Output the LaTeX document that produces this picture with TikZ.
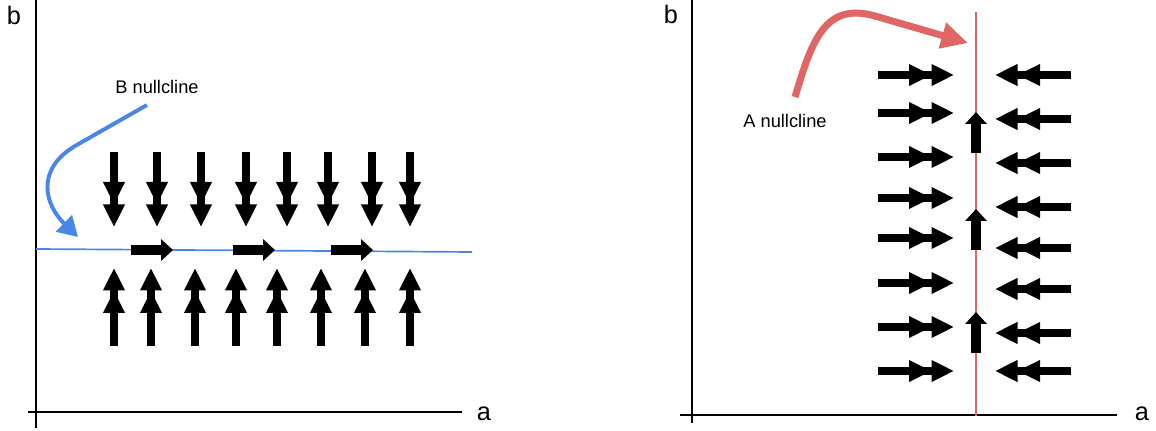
\documentclass[tikz,border=0pt]{standalone}
\usepackage{fontspec}
\setmainfont{Liberation Sans}
\usetikzlibrary{arrows.meta}
\definecolor{nullblue}{HTML}{4A86E8}
\definecolor{nullred}{HTML}{E06666}
\tikzset{
  axis/.style={line width=1.4pt},
  flow/.style={line width=5.6pt, -{Triangle[length=16pt,width=14.5pt]Triangle[length=16pt,width=14.5pt]}},
  drift/.style={line width=7.8pt, -{Triangle[length=8.5pt,width=15pt]}},
  axislabel/.style={font=\fontsize{18}{20}\selectfont},
  nulllabel/.style={font=\fontsize{13}{15}\selectfont}
}
\begin{document}
\begin{tikzpicture}[x=0.025cm,y=-0.025cm]
	\useasboundingbox (0,0) rectangle (1156,431);
	% left: b nullcline
	\draw[axis] (36,0)--(36,428);
	\draw[axis] (28,412)--(462,412);
	\node[axislabel] (bleft) at (14,15) {b};
	\node[axislabel] (aleft) at (484,414) {a};

	\draw[nullblue, line width=1.2pt] (36,249)--(472,252);

	\foreach \x in {114,157,201,246,287,328,372,410}{
	  \draw[flow] (\x,152)--(\x,227);
	}
	\foreach \x in {114,151,195,236,277,321,365,410}{
	  \draw[flow] (\x,346)--(\x,268);
	}
	\foreach \x in {131,233,331}{
	  \draw[drift] (\x,250)--(\x+42,250);
	}

	\node[nulllabel] (blabel) at (157,87) {B nullcline};
	\draw[nullblue, line width=2.8pt, -{Triangle[length=14pt,width=16pt]}] (147,105)--(75,146) .. controls (35,170) and (45,205) .. (78,237);

	% right: a nullcline
	\draw[axis] (692,0)--(692,423);
	\draw[axis] (680,415)--(1117,415);
	\node[axislabel] (bright) at (671,14) {b};
	\node[axislabel] (aright) at (1142,414) {a};

	\draw[nullred, line width=1.2pt] (976,12)--(976,416);

	\foreach \y in {75,113,157,198,238,283,327,371}{
	  \draw[flow] (878,\y)--(954,\y);
	}
	\foreach \y in {75,119,163,207,248,289,333,371}{
	  \draw[flow] (1071,\y)--(995,\y);
	}
	\foreach \y in {153,250,353}{
	  \draw[drift] (976,\y)--(976,\y-41);
	}

	\node[nulllabel] (alabel) at (785,121) {A nullcline};
	\draw[nullred, line width=5pt, -{Triangle[length=19pt,width=18pt]}] (795,97) .. controls (812,40) and (825,2) .. (875,16)--(968,43);
\end{tikzpicture}
\end{document}
